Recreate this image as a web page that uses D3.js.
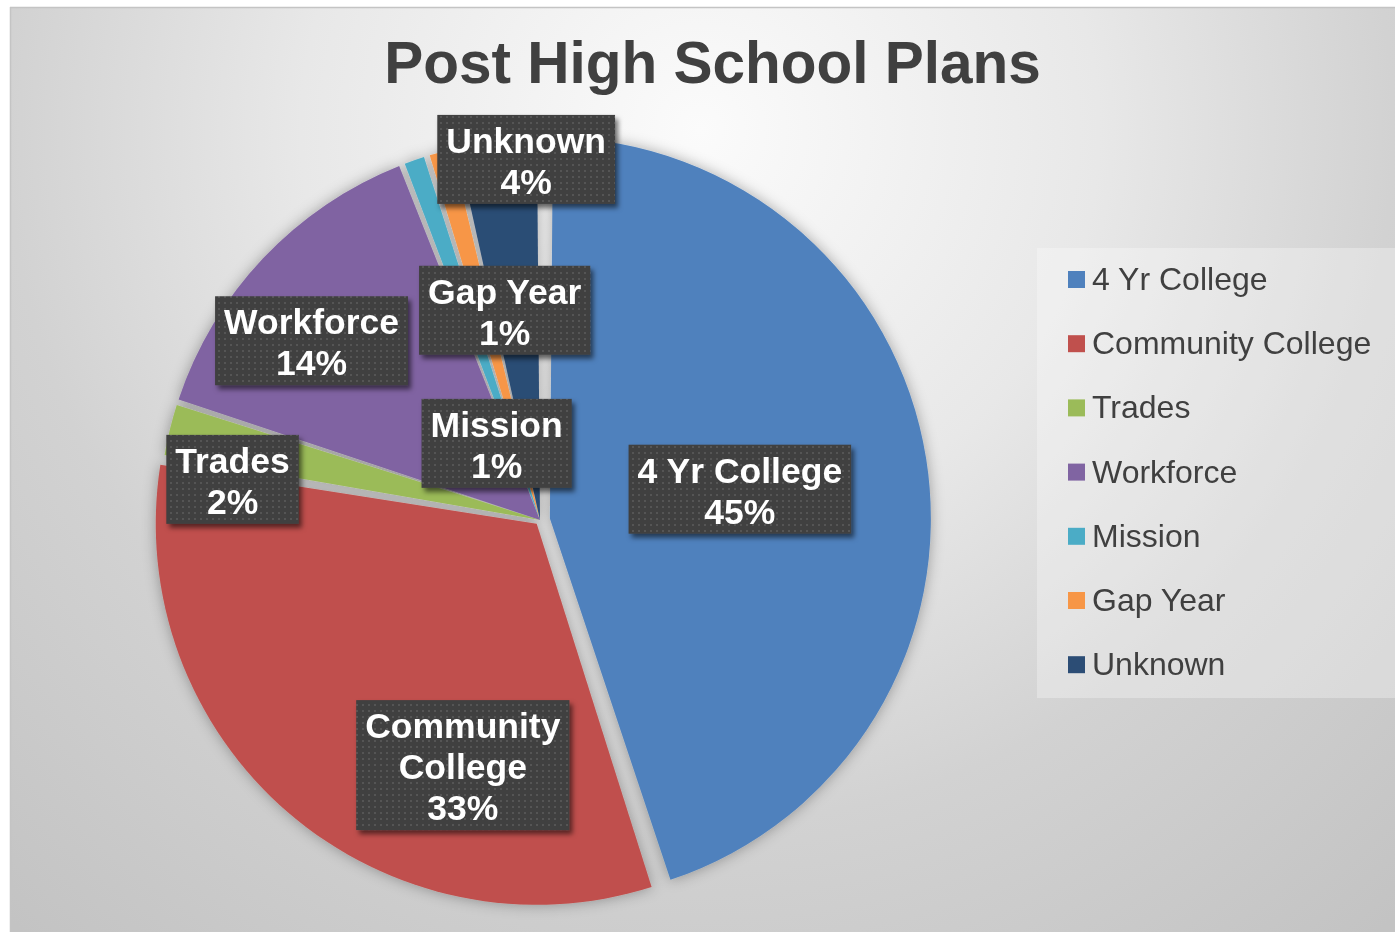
<!DOCTYPE html>
<html><head><meta charset="utf-8">
<script src="https://cdn.jsdelivr.net/npm/d3@7"></script>
<style>html,body{margin:0;padding:0;background:#fff;overflow:hidden}</style>
</head><body>
<svg id="chart" width="1395" height="932"></svg>
<script>
// ---- data ----
const titleText = "Post High School Plans";
const categories = ["4 Yr College","Community College","Trades","Workforce","Mission","Gap Year","Unknown"];
const values = [45.0, 32.6, 2.4, 14.1, 1.1, 1.2, 3.6];
const labelLines = [["4 Yr College"],["Community","College"],["Trades"],["Workforce"],["Mission"],["Gap Year"],["Unknown"]];
const colors = ["#4f81bd","#c0504d","#9bbb59","#8064a2","#4bacc6","#f79646","#2c4d75"];

// ---- layout ----
const W = 1395, H = 932;
const cx = 540, cy = 520, R = 381;
const explodePx = [10,5,0,0,0,0,0];
const labelShiftDeg = [-0.6,-23.0,-5.6,-4.8,-9.3,5.7,4.3];
const labelRadiusFrac = [0.532,0.667,0.815,0.767,0.238,0.566,0.955];

const svg = d3.select("#chart");
const defs = svg.append("defs");

const bg = defs.append("radialGradient").attr("id","bg")
  .attr("gradientUnits","userSpaceOnUse").attr("cx",700).attr("cy",130).attr("r",1050);
[[0,"#fbfbfb"],[0.38,"#e8e8e8"],[0.66,"#d2d2d2"],[1,"#c3c3c3"]].forEach(s=>
  bg.append("stop").attr("offset",s[0]).attr("stop-color",s[1]));

const pieShadow = defs.append("filter").attr("id","pieShadow")
  .attr("x","-20%").attr("y","-20%").attr("width","140%").attr("height","140%");
pieShadow.append("feGaussianBlur").attr("in","SourceAlpha").attr("stdDeviation",7).attr("result","b");
pieShadow.append("feFlood").attr("flood-color","#000").attr("flood-opacity",0.32).attr("result","c");
pieShadow.append("feComposite").attr("in","c").attr("in2","b").attr("operator","in").attr("result","s");
const pm = pieShadow.append("feMerge");
pm.append("feMergeNode").attr("in","s");
pm.append("feMergeNode").attr("in","SourceGraphic");

const boxShadow = defs.append("filter").attr("id","boxShadow")
  .attr("x","-20%").attr("y","-20%").attr("width","140%").attr("height","150%");
boxShadow.append("feDropShadow").attr("dx",3).attr("dy",4).attr("stdDeviation",2.5)
  .attr("flood-color","#000").attr("flood-opacity",0.55);

const pat = defs.append("pattern").attr("id","dots").attr("patternUnits","userSpaceOnUse")
  .attr("width",6).attr("height",6);
pat.append("rect").attr("width",6).attr("height",6).attr("fill","#3f3f3f");
pat.append("rect").attr("x",2).attr("y",2).attr("width",2).attr("height",2).attr("fill","#545454");

// background
svg.append("rect").attr("x",0).attr("y",0).attr("width",W).attr("height",H).attr("fill","#fff");
svg.append("rect").attr("x",10).attr("y",7).attr("width",W-10).attr("height",H-7).attr("fill","url(#bg)");
svg.append("line").attr("x1",10).attr("y1",7.5).attr("x2",W).attr("y2",7.5).attr("stroke","#c4c4c4").attr("stroke-width",1.5);
svg.append("line").attr("x1",10.5).attr("y1",7).attr("x2",10.5).attr("y2",H).attr("stroke","#c4c4c4").attr("stroke-width",1.5);

// title
svg.append("text").attr("x",712.5).attr("y",83).attr("text-anchor","middle")
  .attr("font-family","Liberation Sans, Arial, sans-serif").attr("font-weight","bold")
  .attr("font-size",58.5).attr("fill","#404040").text(titleText);

// pie
const pie = d3.pie().sort(null).value(d=>d).startAngle(0).endAngle(2*Math.PI);
const arcs = pie(values);
const arc = d3.arc().innerRadius(0).outerRadius(R).padAngle(6/R).padRadius(R);
const gPie = svg.append("g").attr("transform",`translate(${cx},${cy})`).attr("filter","url(#pieShadow)");
gPie.selectAll("path").data(arcs).join("path")
  .attr("d",arc)
  .attr("fill",(d,i)=>colors[i])
  .attr("transform",(d,i)=>{
    const a=(d.startAngle+d.endAngle)/2;
    return `translate(${explodePx[i]*Math.sin(a)},${-explodePx[i]*Math.cos(a)})`;
  });

// labels
const fmt = d3.format(".0%");
const total = d3.sum(values);
const gLab = svg.append("g");
arcs.forEach((d,i)=>{
  const a=(d.startAngle+d.endAngle)/2 + labelShiftDeg[i]*Math.PI/180;
  const rr = labelRadiusFrac[i]*R;
  const x = cx + rr*Math.sin(a), y = cy - rr*Math.cos(a) + 3;
  const lines = labelLines[i].concat([fmt(values[i]/total)]);
  const lh = 41, boxH = lh*lines.length + 7;
  const g = gLab.append("g");
  const rect = g.append("rect").attr("fill","url(#dots)").attr("filter","url(#boxShadow)");
  const t = g.append("text").attr("text-anchor","middle")
    .attr("font-family","Liberation Sans, Arial, sans-serif").attr("font-weight","bold")
    .attr("font-size",35.5).attr("fill","#fff");
  const top = y - boxH/2;
  lines.forEach((s,k)=>t.append("tspan").attr("x",x).attr("y",top+38+k*lh).text(s));
  let wmax=0; t.selectAll("tspan").each(function(){wmax=Math.max(wmax,this.getComputedTextLength());});
  const bw = wmax+18;
  rect.attr("x",x-bw/2).attr("y",top).attr("width",bw).attr("height",boxH);
});

// legend
svg.append("rect").attr("x",1037).attr("y",248).attr("width",W-1037).attr("height",450)
  .attr("fill","#fff").attr("fill-opacity",0.3);
const gLeg = svg.append("g");
categories.forEach((c,i)=>{
  const yc = 279.5 + i*64.2;
  gLeg.append("rect").attr("x",1068).attr("y",yc-8.5).attr("width",17).attr("height",17).attr("fill",colors[i]);
  gLeg.append("text").attr("x",1092).attr("y",yc+10.5)
    .attr("font-family","Liberation Sans, Arial, sans-serif").attr("font-size",32)
    .attr("fill","#404040").text(c);
});
</script>
</body></html>
